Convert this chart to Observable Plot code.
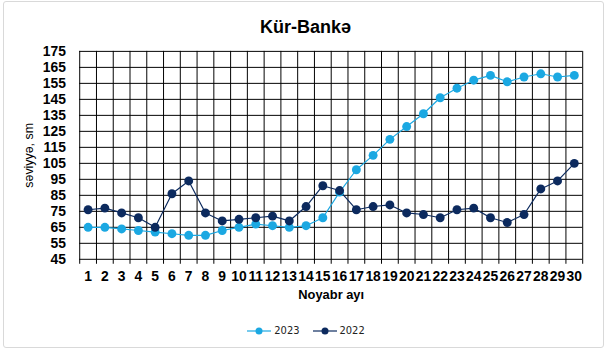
<!DOCTYPE html>
<html>
<head>
<meta charset="utf-8">
<script src="https://cdn.jsdelivr.net/npm/d3@7"></script>
<script src="https://cdn.jsdelivr.net/npm/@observablehq/plot@0.6"></script>
<style>
  html, body { margin: 0; padding: 0; background: #fff; }
  #frame {
    position: absolute; left: 3px; top: 1px; width: 599px; height: 345px;
    border: 1px solid #d9d9d9; border-radius: 3px; box-sizing: content-box;
    font-family: "Liberation Sans", Arial, sans-serif;
  }
  #title {
    position: absolute; left: -3px; width: 609px; top: 15px; text-align: center;
    font-size: 18px; font-weight: bold; color: #000;
  }
  #chart { position: absolute; left: -4px; top: 38px; }
  #legend {
    position: absolute; left: -3px; width: 609px; top: 322px; text-align: center;
    font-family: "Liberation Sans Narrow", "DejaVu Sans Condensed", sans-serif;
    font-size: 11px; color: #222;
  }
  #legend span.item { display: inline-flex; align-items: center; margin: 0 6px; }
  #legend svg { margin-right: 2px; }
</style>
</head>
<body>
<div id="frame">
  <div id="title">Kür-Bankə</div>
  <div id="chart"></div>
  <div id="legend"></div>
</div>
<script>
// November days
const days = [1,2,3,4,5,6,7,8,9,10,11,12,13,14,15,16,17,18,19,20,21,22,23,24,25,26,27,28,29,30];
// Water level (cm) at Kür-Bankə, November 2023 and 2022
const level2023 = [65,65,64,63,62,61,60,60,63,65,67,66,65,66,71,87,101,110,120,128,136,146,152,157,160,156,159,161,159,160];
const level2022 = [76,77,74,71,65,86,94,74,69,70,71,72,69,78,91,88,76,78,79,74,73,71,76,77,71,68,73,89,94,105];
// Level axis ticks
const levelTicks = [45,55,65,75,85,95,105,115,125,135,145,155,165,175];

const seriesNames = ["2023", "2022"];
const seriesColors = ["#1ba8e2", "#0c2a5e"];

const rows = [];
days.forEach((d, i) => {
  rows.push({day: d, level: level2023[i], year: seriesNames[0]});
  rows.push({day: d, level: level2022[i], year: seriesNames[1]});
});

// Category boundaries for the vertical grid
const dayEdges = days.map(d => d - 0.5).concat([days[days.length - 1] + 0.5]);

const chart = Plot.plot({
  width: 609,
  height: 272,
  marginLeft: 80,
  marginRight: 21,
  marginTop: 11,
  marginBottom: 51,
  style: {fontFamily: "Liberation Sans, Arial, sans-serif", color: "#000", background: "transparent"},
  x: {domain: [0.5, 30.5]},
  y: {domain: [45, 175]},
  color: {domain: seriesNames, range: seriesColors},
  marks: [
    Plot.ruleY(levelTicks, {stroke: "#000", strokeWidth: 1, strokeOpacity: 1}),
    Plot.ruleX(dayEdges, {stroke: "#000", strokeWidth: 1, strokeOpacity: 1, insetBottom: -5}),
    Plot.axisY({ticks: levelTicks, tickSize: 0, tickPadding: 14, fontSize: 14, fontWeight: "bold",
      label: "səviyyə, sm", labelAnchor: "center", labelArrow: "none", labelOffset: 56}),
    Plot.axisX({ticks: days, tickSize: 0, tickPadding: 12, fontSize: 14, fontWeight: "bold",
      label: "Noyabr ayı", labelAnchor: "center", labelArrow: "none", labelOffset: 40}),
    Plot.line(rows, {x: "day", y: "level", z: "year", stroke: "year", strokeWidth: 1.2}),
    Plot.dot(rows, {x: "day", y: "level", fill: "year", r: 4.5, stroke: "none"})
  ]
});

// Style the axis labels
d3.select(chart).selectAll("[aria-label='y-axis label'] text").attr("font-size", 12.5).attr("font-weight", "normal");
d3.select(chart).selectAll("[aria-label='x-axis label'] text").attr("font-size", 13).attr("font-weight", "bold");

document.getElementById("chart").appendChild(chart);

// Legend: line with marker per series
const legend = document.getElementById("legend");
seriesNames.forEach((name, i) => {
  const item = document.createElement("span");
  item.className = "item";
  item.innerHTML =
    `<svg width="26" height="10"><line x1="1" x2="25" y1="5" y2="5" stroke="${seriesColors[i]}" stroke-width="1.2"/>` +
    `<circle cx="13" cy="5" r="3.5" fill="${seriesColors[i]}"/></svg>${name}`;
  legend.appendChild(item);
});
</script>
</body>
</html>
